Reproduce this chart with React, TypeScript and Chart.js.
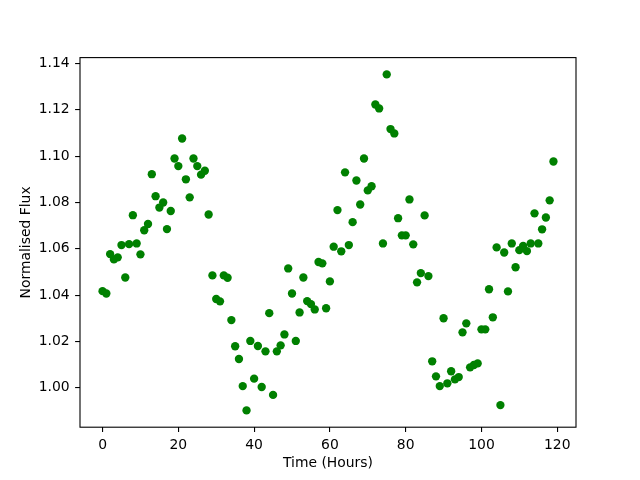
import React, { useEffect, useRef } from "react";
import { Chart, registerables } from "chart.js";
Chart.register(...registerables);

const hours = [
  0, 1, 2, 3, 4, 5, 6, 7, 8, 9, 10, 11, 12, 13, 14, 15, 16, 17, 18, 19,
  20, 21, 22, 23, 24, 25, 26, 27, 28, 29, 30, 31, 32, 33, 34, 35, 36, 37, 38, 39,
  40, 41, 42, 43, 44, 45, 46, 47, 48, 49, 50, 51, 52, 53, 54, 55, 56, 57, 58, 59,
  60, 61, 62, 63, 64, 65, 66, 67, 68, 69, 70, 71, 72, 73, 74, 75, 76, 77, 78, 79,
  80, 81, 82, 83, 84, 85, 86, 87, 88, 89, 90, 91, 92, 93, 94, 95, 96, 97, 98, 99,
  100, 101, 102, 103, 104, 105, 106, 107, 108, 109, 110, 111, 112, 113, 114, 115, 116, 117, 118, 119,
];

const flux = [
  1.0417, 1.0407, 1.0577, 1.0554, 1.0563, 1.0616, 1.0476, 1.062, 1.0745, 1.0623,
  1.0576, 1.068, 1.0707, 1.0922, 1.0827, 1.0778, 1.08, 1.0685, 1.0763, 1.099,
  1.0957, 1.1076, 1.09, 1.0822, 1.099, 1.0957, 1.092, 1.0937, 1.0748, 1.0485,
  1.0383, 1.0373, 1.0485, 1.0475, 1.0292, 1.0179, 1.0124, 1.0007, 0.9902, 1.0202,
  1.0039, 1.018, 1.0003, 1.0157, 1.0322, 0.9969, 1.0157, 1.0183, 1.023, 1.0515,
  1.0407, 1.0202, 1.0325, 1.0476, 1.0374, 1.0361, 1.0338, 1.0543, 1.0537, 1.0343,
  1.0459, 1.0609, 1.0767, 1.0589, 1.093, 1.0616, 1.0715, 1.0895, 1.0791, 1.099,
  1.0852, 1.087, 1.1223, 1.1206, 1.0623, 1.1353, 1.1117, 1.1098, 1.0732, 1.0658,
  1.0658, 1.0813, 1.0619, 1.0455, 1.0495, 1.0744, 1.0482, 1.0114, 1.0049, 1.0007,
  1.03, 1.0019, 1.0071, 1.0036, 1.0046, 1.0239, 1.0278, 1.0088, 1.0098, 1.0105,
  1.0252, 1.0252, 1.0425, 1.0304, 1.0606, 0.9925, 1.0584, 1.0416, 1.0623, 1.052,
  1.0594, 1.0612, 1.059, 1.0623, 1.0753, 1.0623, 1.0684, 1.0735, 1.0809, 1.0977,
];

const xTickValues = [0, 20, 40, 60, 80, 100, 120];
const yTickValues = [1.0, 1.02, 1.04, 1.06, 1.08, 1.1, 1.12, 1.14];
const xLabel = "Time (Hours)";
const yLabel = "Normalised Flux";

export default function App() {
  const ref = useRef<HTMLCanvasElement>(null);

  useEffect(() => {
    document.body.style.margin = "0";
    const canvas = ref.current;
    if (!canvas) return;

    const xmin0 = Math.min(...hours);
    const xmax0 = Math.max(...hours);
    const ymin0 = Math.min(...flux);
    const ymax0 = Math.max(...flux);
    const xm = (xmax0 - xmin0) * 0.05;
    const ym = (ymax0 - ymin0) * 0.05;

    const font = { family: "'DejaVu Sans', sans-serif", size: 13.9 };

    const frame = {
      id: "frame",
      afterDraw(chart: any) {
        const { ctx, chartArea } = chart;
        const { left, top, right, bottom } = chartArea;
        ctx.save();
        ctx.strokeStyle = "#000";
        ctx.lineWidth = 1.1;
        ctx.strokeRect(left, top, right - left, bottom - top);
        ctx.restore();
      },
    };

    const chart = new Chart(canvas, {
      type: "scatter",
      data: {
        datasets: [
          {
            data: hours.map((h, i) => ({ x: h, y: flux[i] })),
            backgroundColor: "#008000",
            borderColor: "#008000",
            borderWidth: 0,
            pointRadius: 4.17,
            pointHoverRadius: 4.17,
          },
        ],
      },
      options: {
        responsive: false,
        animation: false,
        devicePixelRatio: 1,
        layout: { padding: { left: 0, right: 64, top: 57.6, bottom: 0 } },
        plugins: {
          legend: { display: false },
          tooltip: { enabled: false },
        },
        scales: {
          x: {
            type: "linear",
            position: "bottom",
            min: xmin0 - xm,
            max: xmax0 + xm,
            afterBuildTicks: (s: any) => {
              s.ticks = xTickValues.map((v) => ({ value: v }));
            },
            afterFit: (s: any) => {
              s.height = 52.8;
            },
            ticks: {
              color: "#000",
              font,
              padding: 4.5,
              maxRotation: 0,
              autoSkip: false,
              callback: (v: any) => String(v),
            },
            grid: {
              drawOnChartArea: false,
              drawTicks: true,
              tickLength: 4.9,
              color: "#000",
              lineWidth: 1.1,
            },
            border: { display: false },
            title: {
              display: true,
              text: xLabel,
              color: "#000",
              font,
              padding: { top: 0, bottom: 8 },
            },
          },
          y: {
            type: "linear",
            position: "left",
            min: ymin0 - ym,
            max: ymax0 + ym,
            afterBuildTicks: (s: any) => {
              s.ticks = yTickValues.map((v) => ({ value: v }));
            },
            afterFit: (s: any) => {
              s.width = 80;
            },
            ticks: {
              color: "#000",
              font,
              padding: 5.5,
              autoSkip: false,
              callback: (v: any) => Number(v).toFixed(2),
            },
            grid: {
              drawOnChartArea: false,
              drawTicks: true,
              tickLength: 4.9,
              color: "#000",
              lineWidth: 1.1,
            },
            border: { display: false },
            title: {
              display: true,
              text: yLabel,
              color: "#000",
              font,
              padding: { top: 18, bottom: 0 },
            },
          },
        },
      },
      plugins: [frame],
    } as any);

    return () => chart.destroy();
  }, []);

  return (
    <canvas
      ref={ref}
      width={640}
      height={480}
      style={{ display: "block", width: 640, height: 480 }}
    />
  );
}
